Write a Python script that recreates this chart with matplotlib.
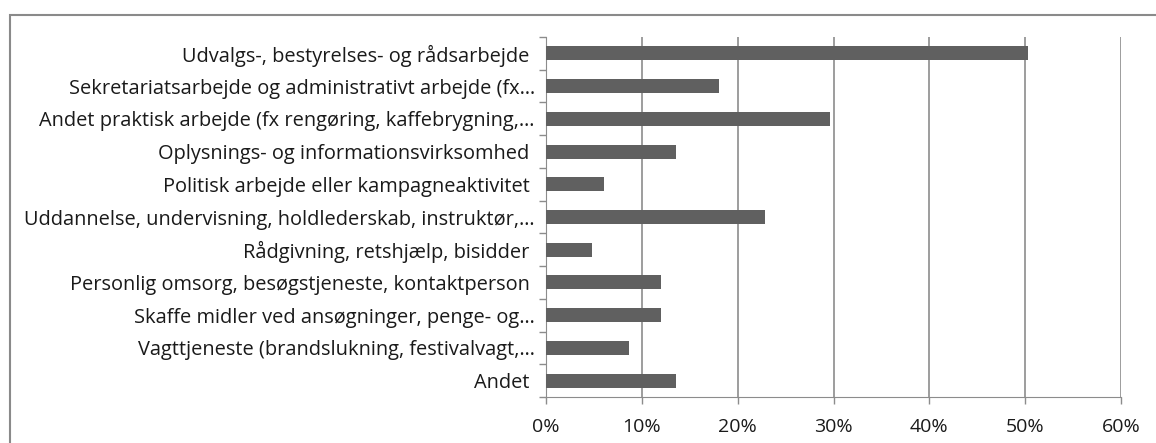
import matplotlib
matplotlib.use("Agg")
import matplotlib.pyplot as plt
from matplotlib.patches import Rectangle
from matplotlib.ticker import FuncFormatter, FixedLocator

# kategorier (øverst først) og andele i %
labels = [
    "Udvalgs-, bestyrelses- og rådsarbejde",
    "Sekretariatsarbejde og administrativt arbejde (fx…",
    "Andet praktisk arbejde (fx rengøring, kaffebrygning,…",
    "Oplysnings- og informationsvirksomhed",
    "Politisk arbejde eller kampagneaktivitet",
    "Uddannelse, undervisning, holdlederskab, instruktør,…",
    "Rådgivning, retshjælp, bisidder",
    "Personlig omsorg, besøgstjeneste, kontaktperson",
    "Skaffe midler ved ansøgninger, penge- og…",
    "Vagttjeneste (brandslukning, festivalvagt,…",
    "Andet",
]
values = [50.3, 18.1, 29.6, 13.6, 6.0, 22.9, 4.8, 12.0, 12.0, 8.7, 13.6]
xticks = [0, 10, 20, 30, 40, 50, 60]

W, H = 1156, 443
fig = plt.figure(figsize=(W / 100, H / 100), dpi=100)
ax = fig.add_axes([546 / W, 1 - 397 / H, (1121 - 546) / W, (397 - 37) / H])

# ramme rundt om diagrammet (kun venstre og top synlig)
fig.patches.append(Rectangle((9.5 / W, -0.1), 1.2, 1 - 14.5 / H + 0.1,
                             transform=fig.transFigure, fill=False,
                             edgecolor="#8a8a8a", linewidth=1.5))

n = len(labels)
pos = list(range(n))
ax.barh(pos, values, height=0.43, color="#606060", zorder=3)
ax.set_ylim(n - 0.5, -0.5)
ax.set_xlim(0, 60)

grid_col = "#8c8c8c"
ax.set_xticks(xticks)
ax.xaxis.set_major_formatter(FuncFormatter(lambda v, p: f"{v:.0f}%"))
ax.grid(axis="x", color=grid_col, linewidth=1.2, zorder=0)
for s in ["top", "right"]:
    ax.spines[s].set_visible(False)
ax.spines["left"].set_color(grid_col)
ax.spines["bottom"].set_color(grid_col)

# tick-streger mellem kategorierne, labels i midten
# (hele labels får et mellemrum bagefter, som i Excel)
shown = [l if l.endswith("…") else l + "\u00a0" for l in labels]
ax.yaxis.set_major_locator(FixedLocator([i - 0.5 for i in range(n + 1)]))
ax.yaxis.set_major_formatter(FuncFormatter(lambda v, p: ""))
ax.yaxis.set_minor_locator(FixedLocator(pos))
ax.set_yticklabels(shown, minor=True)
ax.tick_params(axis="y", which="major", length=5, color=grid_col, width=1)
ax.tick_params(axis="y", which="minor", length=0, pad=8, labelsize=14.4, labelcolor="#1a1a1a")
ax.tick_params(axis="x", length=5, color=grid_col, width=1, pad=10, labelsize=14, labelcolor="#1a1a1a")
for t in ax.get_yticklabels(minor=True) + ax.get_xticklabels():
    t.set_fontfamily(["Open Sans", "DejaVu Sans"])

fig.savefig("out.png", dpi=100)
